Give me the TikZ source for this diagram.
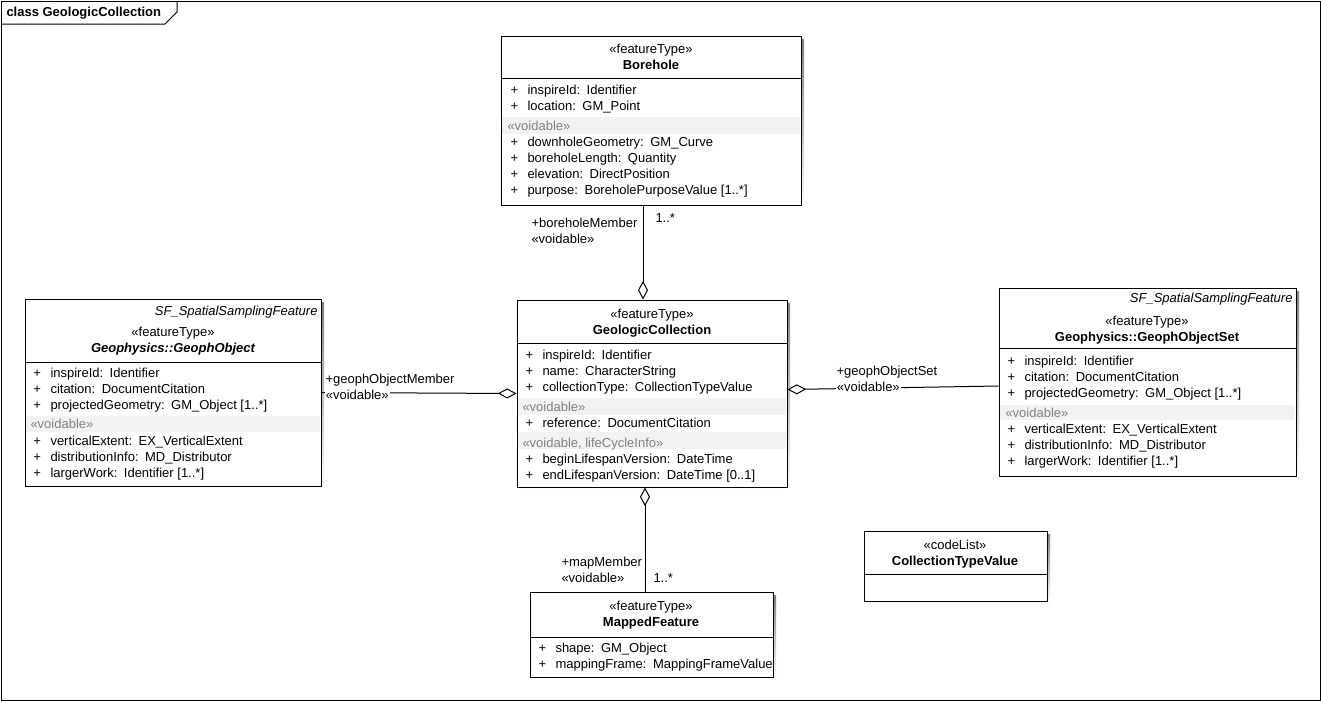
\documentclass[tikz,border=0pt]{standalone}
\usepackage{fontspec}
\setmainfont{Liberation Sans}
\usetikzlibrary{arrows.meta,calc,fit}
\definecolor{bandgray}{HTML}{F2F2F2}
\definecolor{stgray}{HTML}{808080}
\definecolor{shade}{HTML}{B0B0B0}
\newcommand{\clsbox}[5]{%
  \fill[shade] (#2+3,#3+3) rectangle (#4+3,#5+3);
  \node[fit={(#2,#3)(#4,#5)}, inner sep=0pt, draw, fill=white] (#1) {};}
\newcommand{\sepline}[3]{\draw (#1,#3) -- (#2,#3);}
\newcommand{\bandrow}[4]{\fill[bandgray] (#1+1,#3) rectangle (#2-1,#4);}
\newcommand{\attr}[4]{%
  \node[txt] (#1p) at (#2,#3+4.5) {+};
  \node[txt] (#1) at (#2+17,#3+4.5) {#4};}
\newcommand{\gap}{\hspace{0.5em}}
\begin{document}
\begin{tikzpicture}[x=0.75pt,y=-0.75pt,line width=0.75pt,
  every node/.style={font=\fontsize{9.75}{12}\selectfont},
  txt/.style={anchor=base west,inner sep=0pt},
  ctr/.style={anchor=base,inner sep=0pt},
  rgt/.style={anchor=base east,inner sep=0pt,font=\fontsize{9.75}{12}\selectfont\itshape},
  st/.style={anchor=base west,inner sep=0pt,text=stgray},
  lbl/.style={anchor=base west,inner sep=0pt},
  lblw/.style={anchor=base west,inner sep=1pt,fill=white},
  agg/.style={-{Diamond[fill=white,length=14pt,width=7.5pt]}}]
\useasboundingbox (0,0) rectangle (1321,701);
\fill[white] (0,0) rectangle (1321,701);
% frame
\draw (1,1) rectangle (1320,700);
\draw (1,24) -- (165,24) -- (177,12) -- (177,1);
\node[txt,font=\fontsize{9.75}{12}\selectfont\bfseries] (title) at (6,16.5) {class GeologicCollection};

% Borehole
\clsbox{bh}{501}{36}{801}{205}
\node[ctr] (bhst) at (651,53.5) {«featureType»};
\node[ctr,font=\fontsize{9.75}{12}\selectfont\bfseries] (bhname) at (651,69.5) {Borehole};
\sepline{501}{801}{78}
\attr{bha}{510}{90}{inspireId:\gap Identifier}
\attr{bhb}{510}{106}{location:\gap GM\_Point}
\bandrow{501}{801}{117}{134}
\node[st] (bhv) at (507,130.5) {«voidable»};
\attr{bhc}{510}{142}{downholeGeometry:\gap GM\_Curve}
\attr{bhd}{510}{158}{boreholeLength:\gap Quantity}
\attr{bhe}{510}{174}{elevation:\gap DirectPosition}
\attr{bhf}{510}{190}{purpose:\gap BoreholePurposeValue [1..*]}

% GeophObject
\clsbox{go}{25}{299}{321}{486}
\node[rgt] (gosf) at (318,315.5) {SF\_SpatialSamplingFeature};
\node[ctr] (gost) at (173,336.5) {«featureType»};
\node[ctr,font=\fontsize{9.75}{12}\selectfont\bfseries\itshape] (goname) at (173,352.5) {Geophysics::GeophObject};
\sepline{25}{321}{362}
\attr{goa}{33}{373}{inspireId:\gap Identifier}
\attr{gob}{33}{389}{citation:\gap DocumentCitation}
\attr{goc}{33}{405}{projectedGeometry:\gap GM\_Object [1..*]}
\bandrow{25}{321}{416}{432}
\node[st] (gov) at (30,428.5) {«voidable»};
\attr{god}{33}{441}{verticalExtent:\gap EX\_VerticalExtent}
\attr{goe}{33}{457}{distributionInfo:\gap MD\_Distributor}
\attr{gof}{33}{473}{largerWork:\gap Identifier [1..*]}

% GeologicCollection
\clsbox{gc}{517}{300}{787}{487}
\node[ctr] (gcst) at (652,318.5) {«featureType»};
\node[ctr,font=\fontsize{9.75}{12}\selectfont\bfseries] (gcname) at (652,334.5) {GeologicCollection};
\sepline{517}{787}{343}
\attr{gca}{525}{355}{inspireId:\gap Identifier}
\attr{gcb}{525}{371}{name:\gap CharacterString}
\attr{gcc}{525}{387}{collectionType:\gap CollectionTypeValue}
\bandrow{517}{787}{398}{415}
\node[st] (gcv) at (522,411.5) {«voidable»};
\attr{gcd}{525}{423}{reference:\gap DocumentCitation}
\bandrow{517}{787}{432}{449}
\node[st] (gcl) at (522,447.5) {«voidable, lifeCycleInfo»};
\attr{gce}{525}{459}{beginLifespanVersion:\gap DateTime}
\attr{gcf}{525}{475}{endLifespanVersion:\gap DateTime [0..1]}

% GeophObjectSet
\clsbox{gos}{999}{288}{1296}{476}
\node[rgt] (gossf) at (1293,302.5) {SF\_SpatialSamplingFeature};
\node[ctr] (gosst) at (1147,325.5) {«featureType»};
\node[ctr,font=\fontsize{9.75}{12}\selectfont\bfseries] (gosname) at (1147,341.5) {Geophysics::GeophObjectSet};
\sepline{999}{1296}{348}
\attr{gosa}{1007}{361}{inspireId:\gap Identifier}
\attr{gosb}{1007}{377}{citation:\gap DocumentCitation}
\attr{gosc}{1007}{393}{projectedGeometry:\gap GM\_Object [1..*]}
\bandrow{999}{1296}{405}{420}
\node[st] (gosv) at (1005,417.5) {«voidable»};
\attr{gosd}{1007}{429}{verticalExtent:\gap EX\_VerticalExtent}
\attr{gose}{1007}{445}{distributionInfo:\gap MD\_Distributor}
\attr{gosf}{1007}{461}{largerWork:\gap Identifier [1..*]}

% MappedFeature
\clsbox{mf}{530}{592}{773}{677}
\node[ctr] (mfst) at (651,610.5) {«featureType»};
\node[ctr,font=\fontsize{9.75}{12}\selectfont\bfseries] (mfname) at (651,626.5) {MappedFeature};
\sepline{530}{773}{637}
\attr{mfa}{538}{648}{shape:\gap GM\_Object}
\attr{mfb}{538}{664}{mappingFrame:\gap MappingFrameValue}

% CollectionTypeValue
\clsbox{ctv}{864}{531}{1047}{601}
\node[ctr] (ctvst) at (955,549.5) {«codeList»};
\node[ctr,font=\fontsize{9.75}{12}\selectfont\bfseries] (ctvname) at (955,565.5) {CollectionTypeValue};
\sepline{864}{1047}{574}

% connectors
\draw[agg] ($(bh.south)+(-8,0)$) -- ($(gc.north)+(-9,0)$);
\draw[agg] (go.east) -- (gc.west);
\draw[agg] ($(gos.west)+(0,4)$) -- ($(gc.east)+(0,-4)$);
\draw[agg] ($(mf.north)+(-6.5,0)$) -- ($(gc.south)+(-7,0)$);

% connector labels
\node[lbl] (bhrole) at (531,227.5) {+boreholeMember};
\node[lbl] (bhrolev) at (531,243.5) {«voidable»};
\node[lbl] (bhmult) at (655,222.5) {1..*};
\node[lbl] (gorole) at (325,383.5) {+geophObjectMember};
\node[lblw] (gorolev) at (324,399.5) {«voidable»};
\node[lbl] (gosrole) at (836,375.5) {+geophObjectSet};
\node[lblw] (gosrolev) at (835,391.5) {«voidable»};
\node[lbl] (mfrole) at (561,566.5) {+mapMember};
\node[lbl] (mfrolev) at (561,582.5) {«voidable»};
\node[lbl] (mfmult) at (653,582.5) {1..*};
\end{tikzpicture}
\end{document}
